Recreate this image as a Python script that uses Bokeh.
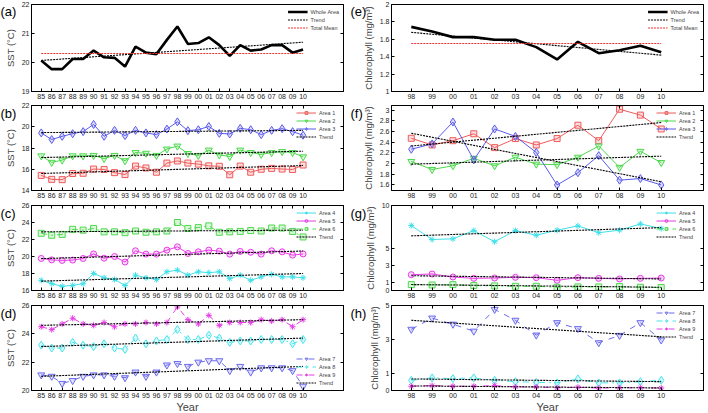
import numpy as np
from bokeh.plotting import figure
from bokeh.layouts import column, row
from bokeh.models import FixedTicker, LinearAxis, Range1d, Legend, LegendItem
from bokeh.embed import file_html
from bokeh.resources import INLINE

# ---------------- data ----------------
years_sst = ["85", "86", "87", "88", "89", "90", "91", "92", "93", "94", "95", "96", "97",
             "98", "99", "00", "01", "02", "03", "04", "05", "06", "07", "08", "09", "10"]
years_chl = ["98", "99", "00", "01", "02", "03", "04", "05", "06", "07", "08", "09", "10"]

# (a) whole-area SST
sst_whole = [20.07, 19.77, 19.77, 20.12, 20.12, 20.41, 20.18, 20.16, 19.86, 20.55, 20.34, 20.29, 20.78,
             21.24, 20.64, 20.67, 20.87, 20.60, 20.23, 20.60, 20.41, 20.45, 20.60, 20.60, 20.34, 20.45]
sst_whole_trend = [20.07, 20.70]
sst_total_mean = 20.31

# (b) Areas 1-3
sst_area1 = [15.42, 15.05, 15.02, 15.60, 15.62, 16.02, 15.98, 15.68, 15.50, 16.30, 16.12, 15.72, 16.58,
             16.78, 16.58, 16.48, 16.32, 16.28, 15.48, 16.30, 15.72, 16.00, 16.08, 16.02, 15.98, 16.40]
sst_area2 = [17.26, 16.65, 16.86, 17.26, 17.26, 17.30, 17.00, 17.30, 16.80, 17.57, 17.50, 17.30, 17.90,
             18.18, 17.48, 17.30, 17.80, 17.35, 17.20, 17.80, 17.57, 17.40, 17.57, 17.66, 17.57, 17.17]
sst_area3 = [19.42, 18.80, 19.10, 19.35, 19.54, 20.22, 19.10, 19.66, 19.17, 19.66, 19.42, 19.26, 19.78,
             20.46, 19.63, 19.72, 20.03, 19.38, 19.32, 19.85, 19.72, 19.26, 19.66, 19.82, 19.54, 19.20]
sst_trend1 = [15.60, 16.35]
sst_trend2 = [17.10, 17.70]
sst_trend3 = [19.45, 19.66]

# (c) Areas 4-6
sst_area4 = [17.2, 16.8, 16.5, 16.6, 16.8, 18.0, 17.5, 17.3, 16.6, 17.8, 17.5, 17.3, 18.2,
             18.4, 17.8, 18.2, 18.1, 18.2, 17.4, 17.8, 17.2, 17.6, 17.9, 17.6, 17.6, 17.5]
sst_area5 = [19.77, 19.60, 19.54, 19.58, 19.77, 20.30, 19.80, 20.00, 19.35, 20.67, 20.28, 20.28, 20.75,
             21.14, 20.36, 20.55, 20.75, 20.63, 20.28, 20.60, 20.50, 20.28, 20.67, 20.55, 20.16, 20.30]
sst_area6 = [22.73, 22.50, 22.60, 23.20, 23.10, 23.30, 22.90, 22.90, 22.80, 23.00, 22.85, 22.90, 23.00,
             24.00, 23.30, 23.40, 23.60, 22.85, 22.90, 22.95, 23.05, 23.00, 23.35, 23.35, 22.95, 22.30]
sst_trend4 = [17.10, 18.00]
sst_trend5 = [19.75, 20.65]
sst_trend6 = [22.90, 23.10]

# (d) Areas 7-9
sst_area7 = [21.1, 21.0, 20.5, 20.7, 21.0, 21.1, 21.1, 21.0, 20.9, 21.3, 21.0, 21.3, 21.8,
             21.9, 21.7, 22.0, 22.1, 22.1, 21.4, 21.7, 21.3, 21.6, 21.6, 21.6, 21.4, 20.3]
sst_area8 = [23.2, 23.0, 23.0, 23.4, 23.2, 23.1, 23.3, 23.0, 22.9, 23.7, 23.3, 23.5, 23.6,
             24.3, 23.6, 23.6, 23.9, 23.7, 23.4, 23.5, 23.5, 23.6, 23.6, 23.6, 23.3, 23.6]
sst_area9 = [24.5, 24.3, 24.7, 25.1, 24.7, 24.6, 24.8, 24.5, 24.7, 24.7, 24.8, 24.7, 24.8,
             25.9, 25.0, 24.7, 25.3, 24.6, 24.8, 24.8, 24.8, 25.0, 24.9, 25.0, 24.5, 25.0]
sst_trend7 = [21.00, 21.70]
sst_trend8 = [23.10, 23.70]
sst_trend9 = [24.60, 25.00]

# (e) whole-area chlorophyll
chl_whole = [1.743, 1.690, 1.625, 1.625, 1.594, 1.594, 1.510, 1.368, 1.571, 1.440, 1.475, 1.525, 1.450]
chl_whole_trend = [1.680, 1.418]
chl_total_mean = 1.552

# (f) Areas 1-3
chl_area1 = [2.475, 2.35, 2.43, 2.56, 2.30, 2.47, 2.35, 2.47, 2.72, 2.43, 3.02, 2.91, 2.65]
chl_area2 = [2.04, 1.89, 1.96, 2.10, 1.96, 2.12, 1.99, 1.98, 2.12, 2.33, 1.93, 2.23, 2.02]
chl_area3 = [2.27, 2.37, 2.78, 2.07, 2.65, 2.51, 2.21, 1.60, 1.83, 2.15, 1.69, 1.72, 1.60]
chl_trend1 = [2.33, 2.77]
chl_trend2 = [1.99, 2.14]
chl_trend3 = [2.57, 1.66]

# (g) Areas 4-6
chl_area4 = [7.64, 6.00, 6.08, 7.05, 5.74, 7.05, 6.50, 7.10, 7.60, 6.80, 7.10, 7.83, 7.29]
chl_area5 = [1.86, 1.94, 1.59, 1.43, 1.47, 1.55, 1.51, 1.20, 1.51, 1.43, 1.36, 1.43, 1.47]
chl_area6 = [0.69, 0.65, 0.69, 0.58, 0.54, 0.50, 0.50, 0.38, 0.42, 0.42, 0.46, 0.38, 0.35]
chl_trend4 = [6.43, 7.40]
chl_trend5 = [1.74, 1.36]
chl_trend6 = [0.70, 0.38]

# (h) Areas 7-9
chl_area7 = [3.60, 4.26, 3.90, 3.49, 4.77, 4.13, 3.26, 3.99, 3.64, 2.81, 3.24, 3.99, 2.97]
chl_area8 = [0.60, 0.74, 0.70, 0.74, 0.60, 0.52, 0.48, 0.45, 0.68, 0.45, 0.45, 0.52, 0.60]
chl_area9 = [0.25, 0.29, 0.25, 0.25, 0.29, 0.21, 0.21, 0.16, 0.19, 0.14, 0.16, 0.16, 0.14]
chl_trend7 = [4.13, 3.16]
chl_trend8 = [0.68, 0.52]
chl_trend9 = [0.27, 0.15]

# ---------------- styles ----------------
FONT = "Liberation Sans"
STY = {
    "Area 1": dict(c="#f05a5a", m="square", s=6, dash="solid"),
    "Area 2": dict(c="#4cd94c", m="inverted_triangle", s=7, dash="solid"),
    "Area 3": dict(c="#5a5aee", m="diamond", s=8, dash="solid"),
    "Area 4": dict(c="#3ee0ea", m="asterisk", s=6, dash="solid"),
    "Area 5": dict(c="#e63ce6", m="circle", s=6, dash="solid"),
    "Area 6": dict(c="#4cd94c", m="square", s=6, dash="dashdot"),
    "Area 7": dict(c="#6b6bee", m="inverted_triangle", s=7, dash="dashed"),
    "Area 8": dict(c="#46e4ec", m="diamond", s=8, dash="dashdot"),
    "Area 9": dict(c="#e63ce6", m="asterisk", s=6, dash="dashed"),
}

LEFT_B = (31, 5)    # left column: border left, border right
RIGHT_B = (43, 5)   # right column


def make_fig(xlabels, xr, yr, yticks, ylabel, frame_h, borders, top_ticks=True, year=False,
             letter="", letter_off=-31, letter_standoff=-28):
    left, right, top, bottom = borders
    p = figure(frame_width=312, frame_height=frame_h,
               x_range=Range1d(*xr), y_range=Range1d(*yr),
               x_axis_type=None, y_axis_type=None,
               output_backend="svg", toolbar_location=None,
               min_border_left=left, min_border_right=right,
               min_border_top=top, min_border_bottom=bottom)
    p.outline_line_color = "black"
    p.outline_line_width = 1
    n = len(xlabels)
    xt = list(range(n))
    ylab = {t: (str(int(round(t))) if abs(t - round(t)) < 1e-9 else ("%g" % t)) for t in yticks}

    def style(ax, labels=True):
        ax.axis_line_color = "black"
        ax.major_tick_in = 3
        ax.major_tick_out = 0
        ax.minor_tick_line_color = None
        ax.major_tick_line_color = "black"
        ax.major_label_text_font = FONT
        if labels:
            ax.major_label_text_font_size = "7px"
            ax.major_label_standoff = 2
            ax.major_label_text_color = "#222222"
        else:
            ax.major_label_text_font_size = "1px"
            ax.major_label_standoff = 0
            ax.major_label_text_color = None

    xb = LinearAxis(ticker=FixedTicker(ticks=xt),
                    major_label_overrides={i: l for i, l in enumerate(xlabels)})
    style(xb)
    if year:
        xb.axis_label = "Year"
        xb.axis_label_text_font = FONT
        xb.axis_label_text_font_size = "11px"
        xb.axis_label_text_font_style = "normal"
        xb.axis_label_standoff = 0
    p.add_layout(xb, "below")
    yl = LinearAxis(ticker=FixedTicker(ticks=yticks), major_label_overrides=ylab)
    style(yl)
    yl.axis_label = ylabel
    yl.axis_label_text_font = FONT
    yl.axis_label_text_font_size = "9.5px"
    yl.axis_label_text_font_style = "normal"
    yl.axis_label_standoff = 3
    p.add_layout(yl, "left")
    yr_ax = LinearAxis(ticker=FixedTicker(ticks=yticks))
    style(yr_ax, labels=False)
    p.add_layout(yr_ax, "right")
    if top_ticks:
        xt_ax = LinearAxis(ticker=FixedTicker(ticks=xt))
        style(xt_ax, labels=False)
        p.add_layout(xt_ax, "above")
    # panel letter: the plot title (second line) pulled down beside the frame
    p.title.text = "\n" + letter
    p.title.align = "left"
    p.title.offset = letter_off
    p.title.standoff = letter_standoff
    p.title.vertical_align = "bottom"
    p.title.text_font = FONT
    p.title.text_font_size = "13px"
    p.title.text_font_style = "normal"
    p.title.text_color = "black"
    return p


def add_series(p, y, name, lw=1.0):
    st = STY[name]
    x = list(range(len(y)))
    l = p.line(x, y, line_color=st["c"], line_width=lw, line_dash=st["dash"])
    m = p.scatter(x, y, marker=st["m"], size=st["s"], line_color=st["c"], fill_color=st["c"],
                  fill_alpha=0.2, line_width=1)
    return [l, m]


def add_trend(p, n, ends):
    return p.line([0, n - 1], ends, line_color="black", line_width=1.1, line_dash="2 1")


def add_legend(p, items, loc, margin=4):
    lg = Legend(items=items, location=loc)
    lg.border_line_color = None
    lg.background_fill_alpha = 0
    lg.label_text_font = FONT
    lg.label_text_font_size = "5.5px"
    lg.label_height = 7
    lg.glyph_height = 7
    lg.glyph_width = 20
    lg.spacing = 1
    lg.padding = 0
    lg.margin = margin
    lg.label_standoff = 3
    p.add_layout(lg)


SST_LABEL = "SST (°C)"
CHL_LABEL = "Chlorophyll (mg/m³)"
nS = len(years_sst)
nC = len(years_chl)
XR_S = (-0.93, 28.86)
XR_C = (-0.95, 14.03)
LOFF = -31
ROFF = -41

# ---------- (a) ----------
pa = make_fig(years_sst, XR_S, (19, 22), [19, 20, 21, 22], SST_LABEL, 87,
              (LEFT_B[0], LEFT_B[1], 4, 11), top_ticks=False, letter="(a)", letter_off=LOFF)
xa = list(range(nS))
ra = pa.line(xa, sst_whole, line_color="black", line_width=2.6)
ta = add_trend(pa, nS, sst_whole_trend)
ma = pa.line([0, nS - 1], [sst_total_mean, sst_total_mean], line_color="#f03030",
             line_width=1.2, line_dash="2 1")
add_legend(pa, [LegendItem(label="Whole Area", renderers=[ra]),
                LegendItem(label="Trend", renderers=[ta]),
                LegendItem(label="Total Mean", renderers=[ma])], "top_right")

# ---------- (e) ----------
pe = make_fig(years_chl, XR_C, (1, 2), [1.0, 1.2, 1.4, 1.6, 1.8, 2.0], CHL_LABEL, 87,
              (RIGHT_B[0], RIGHT_B[1], 4, 11), top_ticks=False, letter="(e)", letter_off=ROFF)
xe = list(range(nC))
re_ = pe.line(xe, chl_whole, line_color="black", line_width=2.6)
te = add_trend(pe, nC, chl_whole_trend)
me = pe.line([0, nC - 1], [chl_total_mean, chl_total_mean], line_color="#f03030",
             line_width=1.2, line_dash="2 1")
add_legend(pe, [LegendItem(label="Whole Area", renderers=[re_]),
                LegendItem(label="Trend", renderers=[te]),
                LegendItem(label="Total Mean", renderers=[me])], "top_right")

# ---------- (b) ----------
pb = make_fig(years_sst, XR_S, (14, 22), [14, 16, 18, 20, 22], SST_LABEL, 85,
              (LEFT_B[0], LEFT_B[1], 3, 11), letter="(b)", letter_off=LOFF, letter_standoff=-30)
b1 = add_series(pb, sst_area1, "Area 1")
b2 = add_series(pb, sst_area2, "Area 2")
b3 = add_series(pb, sst_area3, "Area 3")
tb = [add_trend(pb, nS, t) for t in (sst_trend1, sst_trend2, sst_trend3)]
add_legend(pb, [LegendItem(label="Area 1", renderers=b1), LegendItem(label="Area 2", renderers=b2),
                LegendItem(label="Area 3", renderers=b3), LegendItem(label="Trend", renderers=[tb[0]])],
           "top_right")

# ---------- (f) ----------
pf = make_fig(years_chl, XR_C, (1.496, 3.09), [1.6, 1.8, 2.0, 2.2, 2.4, 2.6, 2.8, 3.0], CHL_LABEL, 85,
              (RIGHT_B[0], RIGHT_B[1], 3, 11), letter="(f)", letter_off=ROFF, letter_standoff=-30)
f1 = add_series(pf, chl_area1, "Area 1")
f2 = add_series(pf, chl_area2, "Area 2")
f3 = add_series(pf, chl_area3, "Area 3")
tf = [add_trend(pf, nC, t) for t in (chl_trend1, chl_trend2, chl_trend3)]
add_legend(pf, [LegendItem(label="Area 1", renderers=f1), LegendItem(label="Area 2", renderers=f2),
                LegendItem(label="Area 3", renderers=f3), LegendItem(label="Trend", renderers=[tf[0]])],
           "top_right")

# ---------- (c) ----------
pc = make_fig(years_sst, XR_S, (16, 26), [16, 18, 20, 22, 24, 26], SST_LABEL, 85,
              (LEFT_B[0], LEFT_B[1], 4, 11), letter="(c)", letter_off=LOFF, letter_standoff=-30)
c4 = add_series(pc, sst_area4, "Area 4")
c5 = add_series(pc, sst_area5, "Area 5")
c6 = add_series(pc, sst_area6, "Area 6")
tc = [add_trend(pc, nS, t) for t in (sst_trend4, sst_trend5, sst_trend6)]
add_legend(pc, [LegendItem(label="Area 4", renderers=c4), LegendItem(label="Area 5", renderers=c5),
                LegendItem(label="Area 6", renderers=c6), LegendItem(label="Trend", renderers=[tc[0]])],
           "top_right")

# ---------- (g) ----------
pg = make_fig(years_chl, XR_C, (0, 10), [0, 1, 3, 5, 10], CHL_LABEL, 85,
              (RIGHT_B[0], RIGHT_B[1], 4, 11), letter="(g)", letter_off=ROFF, letter_standoff=-30)
g4 = add_series(pg, chl_area4, "Area 4")
g5 = add_series(pg, chl_area5, "Area 5")
g6 = add_series(pg, chl_area6, "Area 6")
tg = [add_trend(pg, nC, t) for t in (chl_trend4, chl_trend5, chl_trend6)]
add_legend(pg, [LegendItem(label="Area 4", renderers=g4), LegendItem(label="Area 5", renderers=g5),
                LegendItem(label="Area 6", renderers=g6), LegendItem(label="Trend", renderers=[tg[0]])],
           "top_right")

# ---------- (d) ----------
pd_ = make_fig(years_sst, XR_S, (20, 26), [20, 22, 24, 26], SST_LABEL, 85,
               (LEFT_B[0], LEFT_B[1], 4, 11), year=True, letter="(d)", letter_off=LOFF,
               letter_standoff=-30)
d7 = add_series(pd_, sst_area7, "Area 7")
d8 = add_series(pd_, sst_area8, "Area 8")
d9 = add_series(pd_, sst_area9, "Area 9")
td = [add_trend(pd_, nS, t) for t in (sst_trend7, sst_trend8, sst_trend9)]
add_legend(pd_, [LegendItem(label="Area 7", renderers=d7), LegendItem(label="Area 8", renderers=d8),
                 LegendItem(label="Area 9", renderers=d9), LegendItem(label="Trend", renderers=[td[0]])],
           "bottom_right")

# ---------- (h) ----------
ph = make_fig(years_chl, XR_C, (0, 5), [0, 1, 3, 5], CHL_LABEL, 85,
              (RIGHT_B[0], RIGHT_B[1], 4, 11), year=True, letter="(h)", letter_off=ROFF,
              letter_standoff=-30)
h7 = add_series(ph, chl_area7, "Area 7")
h8 = add_series(ph, chl_area8, "Area 8")
h9 = add_series(ph, chl_area9, "Area 9")
th = [add_trend(ph, nC, t) for t in (chl_trend7, chl_trend8, chl_trend9)]
add_legend(ph, [LegendItem(label="Area 7", renderers=h7), LegendItem(label="Area 8", renderers=h8),
                LegendItem(label="Area 9", renderers=h9), LegendItem(label="Trend", renderers=[th[0]])],
           "top_right")

layout = column(row(pa, pe, spacing=0), row(pb, pf, spacing=0),
                row(pc, pg, spacing=0), row(pd_, ph, spacing=0), spacing=0)

open("out.html", "w").write(file_html(layout, INLINE))
